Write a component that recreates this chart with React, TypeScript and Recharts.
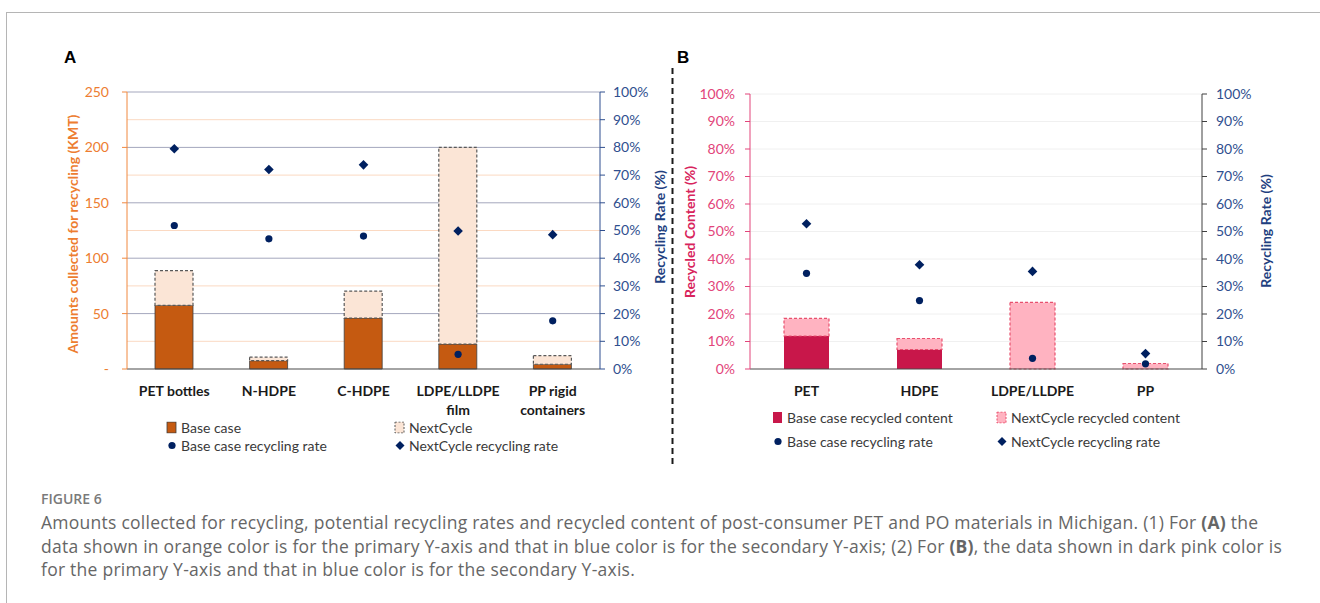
import React from 'react';
import { ComposedChart, Bar, Line, XAxis, YAxis, CartesianGrid } from 'recharts';

// Panel A: amounts collected (KMT) and recycling rates
const categoriesA = ['PET bottles', 'N-HDPE', 'C-HDPE', 'LDPE/LLDPE\nfilm', 'PP rigid\ncontainers'];
const baseAmountA = [57.5, 7.5, 46, 22.5, 4.3];
const nextCycleTotalA = [88.7, 10.7, 70.3, 200, 12];
const baseRateA = [0.518, 0.47, 0.48, 0.053, 0.174];
const nextRateA = [0.795, 0.72, 0.737, 0.498, 0.485];
const ticksA = [0, 50, 100, 150, 200, 250];
const minorA = [25, 75, 125, 175, 225];

// Panel B: recycled content and recycling rates
const categoriesB = ['PET', 'HDPE', 'LDPE/LLDPE', 'PP'];
const baseContentB = [0.12, 0.071, 0, 0];
const nextCycleTotalB = [0.184, 0.111, 0.242, 0.02];
const baseRateB = [0.348, 0.249, 0.039, 0.019];
const nextRateB = [0.528, 0.379, 0.355, 0.056];
const pctTicks = [0, 0.1, 0.2, 0.3, 0.4, 0.5, 0.6, 0.7, 0.8, 0.9, 1];

const dataA = categoriesA.map((name, i) => ({
  name,
  base: baseAmountA[i],
  next: nextCycleTotalA[i] - baseAmountA[i],
  baseRate: baseRateA[i],
  nextRate: nextRateA[i],
}));

const dataB = categoriesB.map((name, i) => ({
  name,
  base: baseContentB[i],
  next: nextCycleTotalB[i] - baseContentB[i],
  baseRate: baseRateB[i],
  nextRate: nextRateB[i],
}));

const FONT = 'Lato, "Open Sans", sans-serif';
const NAVY = '#002060';
const pct = (v: number) => `${Math.round(v * 100)}%`;

const XTick = (props: any) => {
  const { x, y, payload } = props;
  const lines = String(payload.value).split('\n');
  return (
    <text x={x} y={y} textAnchor="middle" fontFamily={FONT} fontSize={14} fontWeight={700} fill="#1a1a1a">
      {lines.map((l, i) => (
        <tspan key={i} x={x} dy={i === 0 ? 27 : 19}>
          {l}
        </tspan>
      ))}
    </text>
  );
};

const dotCircle = (props: any) => {
  const { cx, cy, index } = props;
  return <circle key={`c-${index}`} cx={cx} cy={cy} r={3.6} fill={NAVY} />;
};

const dotDiamond = (props: any) => {
  const { cx, cy, index } = props;
  const s = 4.8;
  return (
    <polygon
      key={`d-${index}`}
      points={`${cx},${cy - s} ${cx + s},${cy} ${cx},${cy + s} ${cx - s},${cy}`}
      fill={NAVY}
    />
  );
};

const VTitle = ({ x, y, text, color }: { x: number; y: number; text: string; color: string }) => (
  <div
    style={{
      position: 'absolute',
      left: x,
      top: y,
      transform: 'translate(-50%, -50%) rotate(-90deg)',
      whiteSpace: 'nowrap',
      fontFamily: FONT,
      fontWeight: 700,
      fontSize: 14,
      color,
    }}
  >
    {text}
  </div>
);

const Swatch = ({ kind, fill, stroke }: { kind: string; fill: string; stroke?: string }) => (
  <svg width={12} height={12} style={{ display: 'block' }}>
    {kind === 'solid' && <rect x={1} y={0.5} width={9} height={11} fill={fill} stroke={stroke} strokeWidth={0.8} />}
    {kind === 'dashed' && (
      <rect x={1} y={0.5} width={9} height={11} fill={fill} stroke={stroke} strokeWidth={1} strokeDasharray="2 1.5" />
    )}
    {kind === 'circle' && <circle cx={6} cy={6} r={3.6} fill={fill} />}
    {kind === 'diamond' && <polygon points="6,1.5 10.5,6 6,10.5 1.5,6" fill={fill} />}
  </svg>
);

const LegendItem = ({ x, y, kind, fill, stroke, label }: any) => (
  <div
    style={{
      position: 'absolute',
      left: x,
      top: y,
      transform: 'translateY(-50%)',
      display: 'flex',
      alignItems: 'center',
      gap: 3,
      fontFamily: FONT,
      fontSize: 14,
      color: '#3a3a3a',
      whiteSpace: 'nowrap',
    }}
  >
    <Swatch kind={kind} fill={fill} stroke={stroke} />
    <span>{label}</span>
  </div>
);

const captionLine: React.CSSProperties = {
  position: 'absolute',
  left: 41,
  whiteSpace: 'nowrap',
  fontFamily: '"Open Sans", sans-serif',
  fontSize: 17.5,
  letterSpacing: 0.25,
  lineHeight: '23px',
  color: '#666',
  transform: 'translateY(-50%)',
};

export default function App() {
  return (
    <div
      style={{
        position: 'absolute',
        left: 0,
        top: 0,
        width: 1320,
        height: 603,
        background: '#fff',
        overflow: 'hidden',
      }}
    >
      <svg width={1320} height={603} style={{ position: 'absolute', left: 0, top: 0 }}>
        <rect x={6.5} y={12.5} width={1340} height={620} fill="none" stroke="#b5b5b5" strokeWidth={1} />
        <line x1={672.5} y1={68} x2={672.5} y2={466} stroke="#1a1a1a" strokeWidth={2} strokeDasharray="6 4" />
      </svg>

      <div style={{ position: 'absolute', left: 64, top: 48, fontFamily: 'Liberation Sans, Arial', fontWeight: 700, fontSize: 17 }}>
        A
      </div>
      <div style={{ position: 'absolute', left: 677, top: 48, fontFamily: 'Liberation Sans, Arial', fontWeight: 700, fontSize: 17 }}>
        B
      </div>

      {/* Panel A */}
      <div style={{ position: 'absolute', left: 0, top: 0 }}>
        <ComposedChart width={672} height={470} data={dataA} margin={{ top: 92, right: 7, bottom: 51, left: 67 }}>
          <CartesianGrid yAxisId="left" vertical={false} horizontalValues={minorA} stroke="#fbd9c2" />
          <CartesianGrid yAxisId="left" vertical={false} horizontalValues={ticksA.slice(1)} stroke="#a4a7bd" />
          <XAxis
            dataKey="name"
            interval={0}
            tick={<XTick />}
            tickLine={false}
            tickSize={0}
            tickMargin={0}
            height={50}
            axisLine={{ stroke: '#4a4a4a', strokeWidth: 1.2 }}
          />
          <YAxis
            yAxisId="left"
            width={60}
            domain={[0, 250]}
            ticks={ticksA}
            tickSize={5}
            tickMargin={13}
            tickFormatter={(v: number) => (v === 0 ? '-' : String(v))}
            tick={{ fill: '#ed7d31', fontSize: 14, fontFamily: FONT }}
            axisLine={{ stroke: '#f0883f' }}
            tickLine={{ stroke: '#f0883f' }}
          />
          <YAxis
            yAxisId="right"
            orientation="right"
            width={65}
            domain={[0, 1]}
            ticks={pctTicks}
            tickSize={5}
            tickMargin={8}
            tickFormatter={pct}
            tick={{ fill: '#2f4f8f', fontSize: 14, fontFamily: FONT, textAnchor: 'start' }}
            axisLine={{ stroke: '#2f4f8f' }}
            tickLine={{ stroke: '#2f4f8f' }}
          />
          <Bar yAxisId="left" dataKey="base" stackId="a" barSize={38} fill="#c55a11" stroke="#3f3f3f" strokeWidth={0.8} isAnimationActive={false} />
          <Bar
            yAxisId="left"
            dataKey="next"
            stackId="a"
            barSize={38}
            fill="#fbe5d6"
            stroke="#595959"
            strokeWidth={1.2}
            strokeDasharray="3 2"
            isAnimationActive={false}
          />
          <Line yAxisId="right" dataKey="baseRate" stroke="none" dot={dotCircle} activeDot={false} isAnimationActive={false} />
          <Line yAxisId="right" dataKey="nextRate" stroke="none" dot={dotDiamond} activeDot={false} isAnimationActive={false} />
        </ComposedChart>
      </div>
      <VTitle x={72} y={234} text="Amounts collected for recycling (KMT)" color="#ed7d31" />
      <VTitle x={659} y={227} text="Recycling Rate (%)" color="#1f3f7f" />

      <LegendItem x={166} y={427} kind="solid" fill="#c55a11" stroke="#3f3f3f" label="Base case" />
      <LegendItem x={394} y={427} kind="dashed" fill="#fbe5d6" stroke="#595959" label="NextCycle" />
      <LegendItem x={166} y={445} kind="circle" fill={NAVY} label="Base case recycling rate" />
      <LegendItem x={394} y={445} kind="diamond" fill={NAVY} label="NextCycle recycling rate" />

      {/* Panel B */}
      <div style={{ position: 'absolute', left: 672, top: 0 }}>
        <ComposedChart width={648} height={470} data={dataB} margin={{ top: 94, right: 48, bottom: 51, left: 18 }}>
          <CartesianGrid yAxisId="left" vertical={false} horizontalValues={pctTicks.slice(1)} stroke="#f0f0f0" />
          <XAxis
            dataKey="name"
            interval={0}
            tick={<XTick />}
            tickLine={false}
            tickSize={0}
            tickMargin={0}
            height={50}
            axisLine={{ stroke: '#4a4a4a', strokeWidth: 1.2 }}
          />
          <YAxis
            yAxisId="left"
            width={60}
            domain={[0, 1]}
            ticks={pctTicks}
            tickSize={5}
            tickMargin={10}
            tickFormatter={pct}
            tick={{ fill: '#e2457a', fontSize: 14, fontFamily: FONT }}
            axisLine={{ stroke: '#e2457a' }}
            tickLine={{ stroke: '#e2457a' }}
          />
          <YAxis
            yAxisId="right"
            orientation="right"
            width={70}
            domain={[0, 1]}
            ticks={pctTicks}
            tickSize={5}
            tickMargin={9}
            tickFormatter={pct}
            tick={{ fill: '#2f4f8f', fontSize: 14, fontFamily: FONT, textAnchor: 'start' }}
            axisLine={{ stroke: '#404040' }}
            tickLine={{ stroke: '#404040' }}
          />
          <Bar yAxisId="left" dataKey="base" stackId="b" barSize={45} fill="#c8174a" isAnimationActive={false} />
          <Bar
            yAxisId="left"
            dataKey="next"
            stackId="b"
            barSize={45}
            fill="#ffb3c1"
            stroke="#e8506e"
            strokeWidth={1.2}
            strokeDasharray="3 2"
            isAnimationActive={false}
          />
          <Line yAxisId="right" dataKey="baseRate" stroke="none" dot={dotCircle} activeDot={false} isAnimationActive={false} />
          <Line yAxisId="right" dataKey="nextRate" stroke="none" dot={dotDiamond} activeDot={false} isAnimationActive={false} />
        </ComposedChart>
      </div>
      <VTitle x={689} y={232} text="Recycled Content (%)" color="#d8245c" />
      <VTitle x={1265} y={231} text="Recycling Rate (%)" color="#1f3f7f" />

      <LegendItem x={772} y={417} kind="solid" fill="#c8174a" label="Base case recycled content" />
      <LegendItem x={996} y={417} kind="dashed" fill="#ffb3c1" stroke="#e8506e" label="NextCycle recycled content" />
      <LegendItem x={772} y={441} kind="circle" fill={NAVY} label="Base case recycling rate" />
      <LegendItem x={996} y={441} kind="diamond" fill={NAVY} label="NextCycle recycling rate" />

      {/* Caption */}
      <div
        style={{
          position: 'absolute',
          left: 41,
          top: 498,
          transform: 'translateY(-50%)',
          fontFamily: '"Open Sans", sans-serif',
          fontSize: 14,
          fontWeight: 600,
          color: '#7a7a7a',
          whiteSpace: 'nowrap',
        }}
      >
        FIGURE 6
      </div>
      <div style={{ ...captionLine, top: 522 }}>
        Amounts collected for recycling, potential recycling rates and recycled content of post-consumer PET and PO
        materials in Michigan. (1) For <b>(A)</b> the
      </div>
      <div style={{ ...captionLine, top: 546 }}>
        data shown in orange color is for the primary Y-axis and that in blue color is for the secondary Y-axis; (2) For{' '}
        <b>(B)</b>, the data shown in dark pink color is
      </div>
      <div style={{ ...captionLine, top: 569 }}>
        for the primary Y-axis and that in blue color is for the secondary Y-axis.
      </div>
    </div>
  );
}
